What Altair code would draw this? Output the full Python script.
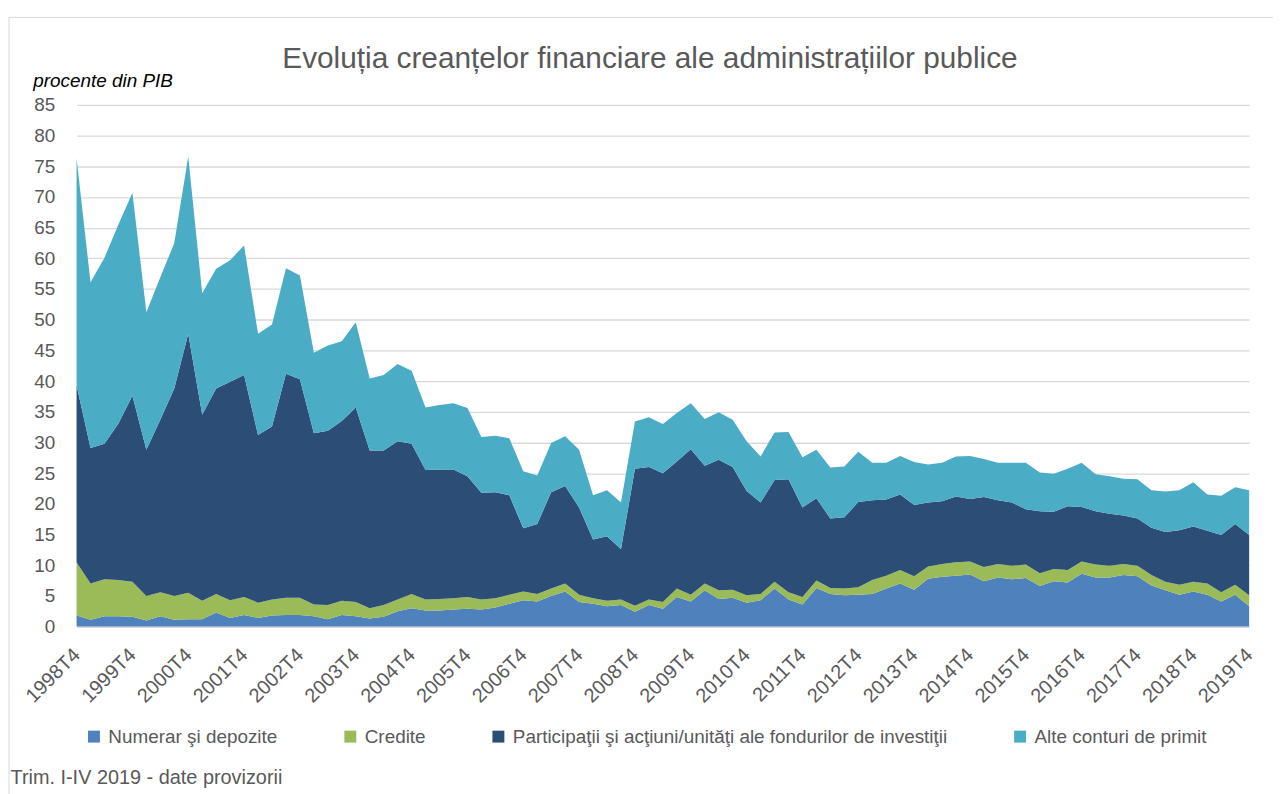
import altair as alt
import pandas as pd

# ---------------- data ----------------
quarters = ["1998T4"] + [f"{y}T{q}" for y in range(1999, 2020) for q in range(1, 5)]
tick_labels = [f"{y}T4" for y in range(1998, 2020)]

series_names = [
    "Numerar şi depozite",
    "Credite",
    "Participaţii şi acţiuni/unităţi ale fondurilor de investiţii",
    "Alte conturi de primit",
]
series_colors = ["#4f81bd", "#9bbb59", "#2c4d75", "#4bacc6"]

numerar = [1.8, 1.1, 1.7, 1.7, 1.6, 1.0, 1.7, 1.1, 1.2, 1.2,
           2.3, 1.4, 1.9, 1.4, 1.8, 1.9, 1.9, 1.7, 1.2, 1.9,
           1.7, 1.3, 1.6, 2.5, 3.0, 2.6, 2.6, 2.8, 2.9, 2.8,
           3.1, 3.7, 4.3, 4.1, 5.0, 5.7, 4.0, 3.7, 3.3, 3.5,
           2.4, 3.5, 2.9, 4.8, 4.1, 5.9, 4.5, 4.7, 3.9, 4.3,
           6.2, 4.4, 3.6, 6.3, 5.3, 5.1, 5.2, 5.3, 6.2, 7.0,
           6.0, 7.8, 8.1, 8.3, 8.5, 7.4, 8.0, 7.7, 7.9, 6.6,
           7.4, 7.2, 8.6, 8.0, 8.0, 8.4, 8.2, 6.7, 5.9, 5.2,
           5.7, 5.2, 4.1, 5.2, 3.3]

credite = [8.7, 5.9, 6.0, 5.9, 5.7, 4.0, 3.9, 3.9, 4.3, 3.0,
           3.0, 2.9, 2.9, 2.5, 2.6, 2.8, 2.8, 1.9, 2.3, 2.3,
           2.3, 1.7, 1.9, 1.9, 2.3, 1.8, 1.9, 1.8, 1.9, 1.6,
           1.5, 1.5, 1.4, 1.2, 1.2, 1.3, 1.2, 0.9, 0.9, 0.9,
           1.0, 0.9, 1.1, 1.4, 1.1, 1.1, 1.4, 1.3, 1.2, 1.0,
           1.1, 1.2, 1.2, 1.2, 1.0, 1.1, 1.2, 2.3, 2.1, 2.2,
           2.2, 2.0, 2.1, 2.2, 2.1, 2.3, 2.2, 2.2, 2.2, 2.1,
           2.0, 2.0, 2.0, 2.1, 1.9, 1.8, 1.7, 1.7, 1.4, 1.6,
           1.6, 1.8, 1.5, 1.6, 1.8]

participatii = [28.8, 22.1, 22.1, 25.5, 30.3, 23.8, 28.1, 33.8, 42.2, 30.3,
                33.5, 35.6, 36.2, 27.3, 28.2, 36.5, 35.6, 27.9, 28.4, 29.3,
                31.7, 25.7, 25.2, 25.8, 24.5, 21.1, 21.1, 21.0, 19.7, 17.4,
                17.3, 16.2, 10.3, 11.4, 15.7, 15.9, 14.2, 9.6, 10.5, 8.2,
                22.3, 21.6, 21.0, 20.7, 23.7, 19.2, 21.3, 20.0, 17.0, 14.9,
                16.6, 18.4, 14.6, 13.4, 11.3, 11.6, 13.9, 13.0, 12.4, 12.3,
                11.6, 10.4, 10.2, 10.7, 10.2, 11.4, 10.4, 10.3, 9.0, 10.1,
                9.3, 10.4, 8.9, 8.7, 8.5, 7.9, 7.7, 7.7, 8.1, 8.9,
                9.0, 8.6, 9.3, 9.9, 9.8]

alte = [37.0, 27.0, 30.3, 32.4, 33.1, 22.4, 23.2, 23.7, 28.9, 19.8,
        19.5, 19.8, 21.1, 16.5, 16.6, 17.2, 16.9, 13.1, 13.9, 13.0,
        13.9, 11.7, 12.3, 12.6, 11.9, 10.2, 10.5, 10.8, 11.1, 9.1,
        9.2, 9.3, 9.3, 7.9, 8.0, 8.1, 9.4, 7.2, 7.5, 7.6,
        7.7, 8.1, 8.0, 7.9, 7.5, 7.6, 7.7, 7.7, 8.1, 7.5,
        7.7, 7.7, 8.2, 7.9, 8.3, 8.3, 8.2, 6.1, 6.0, 6.3,
        7.0, 6.2, 6.3, 6.5, 7.0, 6.2, 6.1, 6.5, 7.6, 6.3,
        6.2, 6.1, 7.2, 6.0, 6.1, 6.0, 6.4, 6.1, 6.6, 6.5,
        7.2, 5.9, 6.4, 6.0, 7.3]

y_ticks = list(range(0, 90, 5))

chart_title = "Evoluția creanțelor financiare ale administrațiilor publice"
y_title = "procente din PIB"
footnote = "Trim. I-IV 2019 - date provizorii"

# ---------------- table ----------------
rows = []
for k, (name, vals) in enumerate(zip(series_names, [numerar, credite, participatii, alte])):
    for q, v in zip(quarters, vals):
        rows.append({"q": q, "s": name, "v": v, "k": k})
df = pd.DataFrame(rows)

FONT = "Liberation Sans"
GREY = "#595959"

areas = alt.Chart(df).mark_area(interpolate="linear").encode(
    x=alt.X(
        "q:O",
        sort=quarters,
        scale=alt.Scale(type="point", padding=0),
        axis=alt.Axis(
            values=tick_labels,
            labelAngle=-45,
            labelAlign="right",
            labelBaseline="middle",
            labelPadding=25,
            labelFontSize=20,
            labelColor=GREY,
            labelOverlap=False,
            ticks=False,
            grid=False,
            domainColor="#d9d9d9",
            domainWidth=1.3,
            title=footnote,
            titleX=-67,
            titleY=158,
            titleAlign="left",
            titleAngle=0,
            titleBaseline="alphabetic",
            titleFontSize=20,
            titleFontWeight="normal",
            titleColor=GREY,
        ),
    ),
    y=alt.Y(
        "v:Q",
        stack="zero",
        scale=alt.Scale(domain=[0, 85], nice=False),
        axis=alt.Axis(
            values=y_ticks,
            labelFontSize=19,
            labelColor=GREY,
            labelPadding=22,
            ticks=False,
            domain=False,
            gridColor="#d9d9d9",
            gridWidth=1.3,
            title=y_title,
            titleAngle=0,
            titleX=-44,
            titleY=-18,
            titleAlign="left",
            titleBaseline="alphabetic",
            titleFontSize=19,
            titleFontStyle="italic",
            titleFontWeight="normal",
            titleColor="#000000",
        ),
    ),
    color=alt.Color(
        "s:N",
        scale=alt.Scale(domain=series_names, range=series_colors),
        legend=alt.Legend(
            title=None,
            orient="none",
            legendX=8,
            legendY=626,
            direction="horizontal",
            columns=4,
            columnPadding=63,
            symbolType="square",
            symbolSize=144,
            symbolStrokeWidth=0,
            labelFontSize=19,
            labelColor=GREY,
            labelLimit=1000,
            labelOffset=5,
        ),
    ),
    order=alt.Order("k:Q", sort="ascending"),
)

title_layer = alt.Chart(alt.Data(values=[{"t": chart_title}])).mark_text(
    fontSize=30, color=GREY, align="center", baseline="alphabetic", font=FONT
).encode(x=alt.value(577), y=alt.value(-37), text="t:N")

frame_layer = alt.Chart(alt.Data(values=[{"f": 1}])).mark_rect(
    filled=False, color="#d9d9d9", strokeWidth=1
).encode(x=alt.value(-68), x2=alt.value(1240), y=alt.value(-88), y2=alt.value(720))

chart = (
    alt.layer(frame_layer, areas, title_layer)
    .properties(
        width=1180,
        height=525,
        autosize=alt.AutoSizeParams(type="none"),
        padding={"left": 69, "top": 95, "right": 24, "bottom": 166},
    )
    .configure(font=FONT)
    .configure_view(strokeWidth=0)
)

chart.save("out.html", embed_options={"renderer": "svg", "actions": False})
